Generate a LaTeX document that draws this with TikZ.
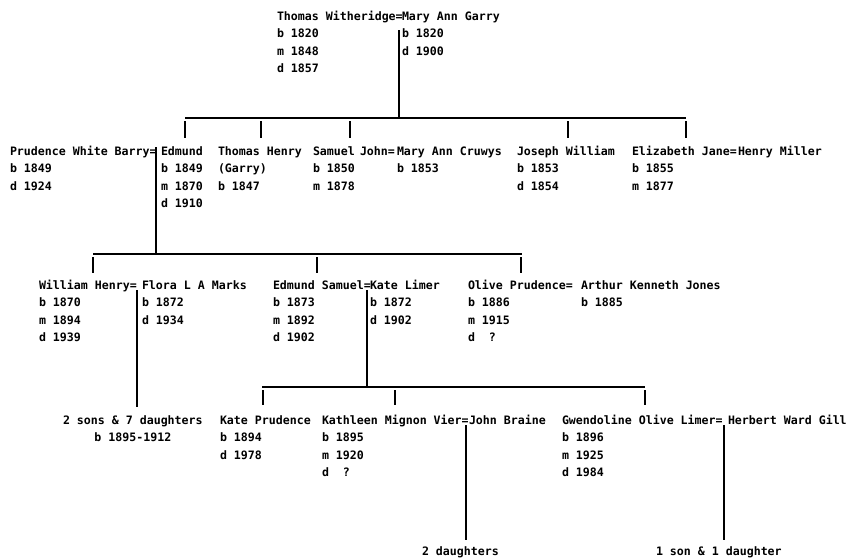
\documentclass[tikz,border=0pt]{standalone}
\usepackage{fontspec}
\newfontfamily\dotfont{DejaVu Sans Mono}
\newcommand\Rows[1]{\begin{tabular}[t]{@{}l@{}}#1\end{tabular}}
\newcommand\CRows[1]{\begin{tabular}[t]{@{}c@{}}#1\end{tabular}}
\begin{document}
\begin{tikzpicture}[x=1pt,y=-1pt,
  person/.style={anchor=base west, inner sep=0pt, outer sep=0pt,
    font={\dotfont\bfseries\fontsize{11.6pt}{17.5pt}\selectfont}},
  conn/.style={line width=1.6pt, line cap=butt},
  tick/.style={line width=1.8pt, line cap=butt}]
\useasboundingbox (0,0) rectangle (850,558);
\fill[white] (0,0) rectangle (850,558);

% level 0
\node[person] (tw) at (277,20) {\Rows{Thomas Witheridge=\\b 1820\\m 1848\\d 1857}};
\node[person] (mag) at (402,20) {\Rows{Mary Ann Garry\\b 1820\\d 1900}};

% level 1
\node[person] (pwb) at (10,155) {\Rows{Prudence White Barry=\\b 1849\\d 1924}};
\node[person] (edm) at (161,155) {\Rows{Edmund\\b 1849\\m 1870\\d 1910}};
\node[person] (th) at (218,155) {\Rows{Thomas Henry\\(Garry)\\b 1847}};
\node[person] (sam) at (313,155) {\Rows{Samuel\\b 1850\\m 1878}};
\node[person] (john) at (360,155) {John=};
\node[person] (mac) at (397,155) {\Rows{Mary Ann Cruwys\\b 1853}};
\node[person] (jw) at (517,155) {\Rows{Joseph William\\b 1853\\d 1854}};
\node[person] (ej) at (632,155) {\Rows{Elizabeth Jane=\\b 1855\\m 1877}};
\node[person] (hm) at (738,155) {Henry Miller};

% level 2
\node[person] (wh) at (39,289) {\Rows{William Henry=\\b 1870\\m 1894\\d 1939}};
\node[person] (flm) at (142,289) {\Rows{Flora L A Marks\\b 1872\\d 1934}};
\node[person] (es) at (273,289) {\Rows{Edmund Samuel=\\b 1873\\m 1892\\d 1902}};
\node[person] (kl) at (370,289) {\Rows{Kate Limer\\b 1872\\d 1902}};
\node[person] (op) at (468,289) {\Rows{Olive Prudence=\\b 1886\\m 1915\\d~~?}};
\node[person] (akj) at (581,289) {\Rows{Arthur Kenneth Jones\\b 1885}};

% level 3
\node[person] (sons) at (63,424) {\CRows{2 sons \& 7 daughters\\b 1895-1912}};
\node[person] (kp) at (220,424) {\Rows{Kate Prudence\\b 1894\\d 1978}};
\node[person] (kmv) at (322,424) {\Rows{Kathleen Mignon Vier=\\b 1895\\m 1920\\d~~?}};
\node[person] (jb) at (469,424) {John Braine};
\node[person] (gol) at (562,424) {\Rows{Gwendoline Olive Limer=\\b 1896\\m 1925\\d 1984}};
\node[person] (hwg) at (728,424) {Herbert Ward Gill};

% bottom
\node[person] (d2) at (422,555) {2 daughters};
\node[person] (s1) at (656,555) {1 son \& 1 daughter};

% coordinates
\coordinate (m0) at (399,30);
\coordinate (j0) at (399,118);
\coordinate (b1l) at (185,118);
\coordinate (b1r) at (686,118);
\coordinate (m1) at (156,147);
\coordinate (j1) at (156,254);
\coordinate (b2l) at (93,254);
\coordinate (b2r) at (522,254);
\coordinate (m2) at (137,290);
\coordinate (e2) at (137,407);
\coordinate (m3) at (367,290);
\coordinate (j3) at (367,387);
\coordinate (b3l) at (262,387);
\coordinate (b3r) at (645,387);
\coordinate (m4) at (466,425);
\coordinate (e4) at (466,540);
\coordinate (m5) at (724,425);
\coordinate (e5) at (724,540);

% level 0 -> 1
\draw[conn] (m0) -- (j0);
\draw[conn] (b1l) -- (b1r);
\foreach \x in {185,261,350,568,686} \draw[tick] (\x,121) -- (\x,138);

% level 1 -> 2
\draw[conn] (m1) -- (j1);
\draw[conn] (b2l) -- (b2r);
\foreach \x in {93,317,521} \draw[tick] (\x,257) -- (\x,273);

% level 2 -> 3
\draw[conn] (m2) -- (e2);
\draw[conn] (m3) -- (j3);
\draw[conn] (b3l) -- (b3r);
\foreach \x in {263,395,645} \draw[tick] (\x,390) -- (\x,405);

% level 3 -> bottom
\draw[conn] (m4) -- (e4);
\draw[conn] (m5) -- (e5);
\end{tikzpicture}
\end{document}
